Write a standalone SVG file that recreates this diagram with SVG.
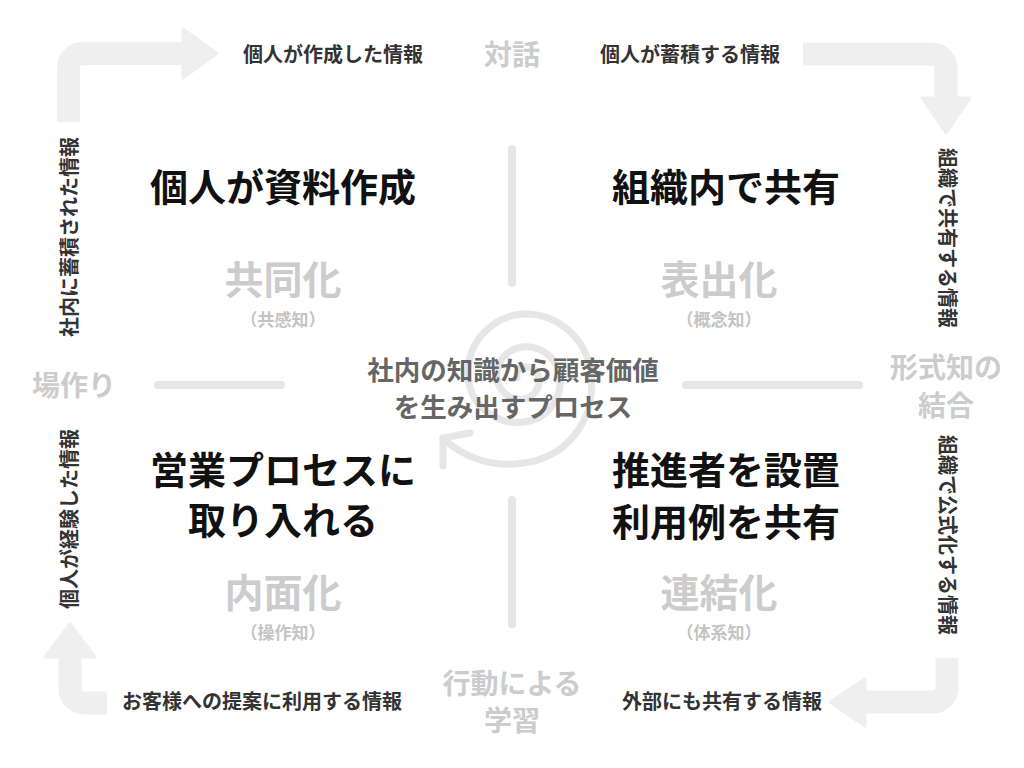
<svg xmlns="http://www.w3.org/2000/svg" width="1024" height="768" viewBox="0 0 1024 768">
<style>
text{font-family:"Noto Sans CJK JP","Noto Sans",sans-serif;font-weight:700;text-anchor:middle;dominant-baseline:central}
.title{font-size:38px;fill:#111}
.big{font-size:39px;fill:#cccccc}
.side{font-size:28px;fill:#cccccc}
.sub{font-size:17px;fill:#c4c4c4}
.lbl{font-size:20px;fill:#333}
.center{font-size:26.5px;fill:#666}
.bar{fill:none;stroke:#efefef;stroke-width:23}
.head{fill:#efefef;stroke:#efefef;stroke-width:3;stroke-linejoin:round}
.div{stroke:#e6e6e6;stroke-width:8;stroke-linecap:round;fill:none}
.spiral{fill:none;stroke:#e6e6e6;stroke-width:7;stroke-linecap:round;stroke-linejoin:round}
</style>
<rect width="1024" height="768" fill="#fff"/>
<g id="connectors">
  <path class="bar" d="M68.5,122 V67.5 A14,14 0 0 1 82.5,53.5 H186"/>
  <polygon class="head" points="183,29 217,53.5 183,78"/>
  <path class="bar" d="M803,54 H932 A14,14 0 0 1 946,68 V99"/>
  <polygon class="head" points="922,98 970,98 946,133"/>
  <path class="bar" d="M107,703 H84 A14,14 0 0 1 70,689 V655"/>
  <polygon class="head" points="45,657 95,657 70,624"/>
  <path class="bar" d="M947,658 V688 A14,14 0 0 1 933,702 H862"/>
  <polygon class="head" points="865,679 865,726 830,702"/>
  <line class="div" x1="512" y1="149" x2="512" y2="283"/>
  <line class="div" x1="512" y1="500" x2="512" y2="624"/>
  <line class="div" x1="158" y1="385" x2="281" y2="385"/>
  <line class="div" x1="686" y1="385" x2="859" y2="385"/>
  <path class="spiral" d="M517,378 A8.5,8.5 0 0 1 523,367 A13.5,13.5 0 0 1 539,378 A18.5,18.5 0 0 1 523,399 A23.5,23.5 0 0 1 497,378 A28.5,28.5 0 0 1 523,347 A34,34 0 0 1 560,378 A40.5,40.5 0 0 1 523,422 A49.5,49.5 0 0 1 468,378 A59.5,59.5 0 0 1 523,314 A66,66 0 0 1 591,378 A76.5,76.5 0 0 1 523,463 A93,93 0 0 1 443,438"/>
  <path class="spiral" d="M470,433 L443,438 L443,466"/>
</g>
<g id="top-labels">
  <text class="lbl" x="333" y="53">個人が作成した情報</text>
  <text class="side" x="512" y="53">対話</text>
  <text class="lbl" x="690" y="53">個人が蓄積する情報</text>
</g>
<g id="bottom-labels">
  <text class="lbl" x="262" y="700">お客様への提案に利用する情報</text>
  <text class="side" x="512" y="682">行動による</text>
  <text class="side" x="512" y="719">学習</text>
  <text class="lbl" x="722" y="700">外部にも共有する情報</text>
</g>
<g id="side-labels">
  <text class="side" x="74" y="384">場作り</text>
  <text class="side" x="946" y="366">形式知の</text>
  <text class="side" x="946" y="404">結合</text>
  <text class="lbl" transform="translate(68,237) rotate(-90)">社内に蓄積された情報</text>
  <text class="lbl" transform="translate(68,519) rotate(-90)">個人が経験した情報</text>
  <text class="lbl" transform="translate(948,238) rotate(90)">組織で共有する情報</text>
  <text class="lbl" transform="translate(948,535) rotate(90)">組織で公式化する情報</text>
</g>
<g id="q-socialization">
  <text class="title" x="283" y="184">個人が資料作成</text>
  <text class="big" x="283" y="277">共同化</text>
  <text class="sub" x="283" y="318">（共感知）</text>
</g>
<g id="q-externalization">
  <text class="title" x="726" y="184">組織内で共有</text>
  <text class="big" x="719" y="277">表出化</text>
  <text class="sub" x="719" y="318">（概念知）</text>
</g>
<g id="q-internalization">
  <text class="title" x="283" y="467">営業プロセスに</text>
  <text class="title" x="283" y="517">取り入れる</text>
  <text class="big" x="283" y="590">内面化</text>
  <text class="sub" x="283" y="631">（操作知）</text>
</g>
<g id="q-combination">
  <text class="title" x="726" y="467">推進者を設置</text>
  <text class="title" x="726" y="519">利用例を共有</text>
  <text class="big" x="719" y="590">連結化</text>
  <text class="sub" x="719" y="631">（体系知）</text>
</g>
<g id="center">
  <text class="center" x="513" y="368">社内の知識から顧客価値</text>
  <text class="center" x="513" y="405">を生み出すプロセス</text>
</g>
</svg>
